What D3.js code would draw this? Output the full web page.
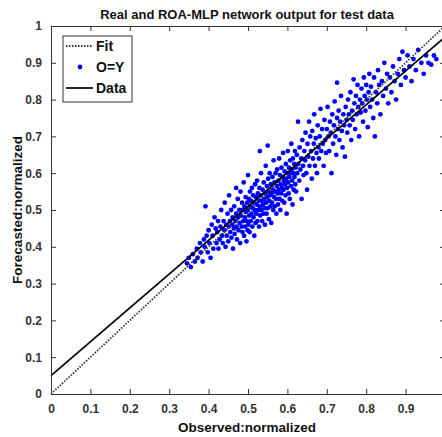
<!DOCTYPE html>
<html><head><meta charset="utf-8">
<script src="https://cdn.jsdelivr.net/npm/d3@7"></script>
<style>
html,body{margin:0;padding:0;background:#fff;}
svg{display:block;font-family:"Liberation Sans",Arial,sans-serif;}
</style></head>
<body>
<svg id="chart" width="442" height="437"></svg>
<script>
const titleText = "Real and ROA-MLP network output for test data";
const xLabel = "Observed:normalized";
const yLabel = "Forecasted:normalized";
const xTicks = [0,0.1,0.2,0.3,0.4,0.5,0.6,0.7,0.8,0.9,1];
const yTicks = [0,0.1,0.2,0.3,0.4,0.5,0.6,0.7,0.8,0.9,1];
const legendLabels = ["Fit","O=Y","Data"];
// regression ("Data") line end points
const dataLine = [[0,0.05],[1,0.97]];
// identity ("Fit") line
const fitLine = [[0,0],[1,1]];
// scatter points [observed, forecasted]
const points = [
[0.345,0.355],[0.35,0.37],[0.355,0.345],[0.36,0.38],[0.365,0.36],[0.37,0.395],[0.372,0.37],[0.378,0.41],[0.38,0.385],[0.385,0.36],[0.388,0.42],[0.39,0.4],[0.392,0.51],[0.395,0.43],[0.398,0.385],[0.4,0.445],[0.402,0.41],[0.405,0.37],[0.408,0.46],[0.41,0.43],[0.412,0.395],[0.415,0.48],[0.418,0.45],[0.42,0.41],
[0.422,0.44],[0.424,0.47],[0.425,0.395],[0.428,0.42],[0.43,0.455],[0.432,0.5],[0.434,0.43],[0.436,0.41],[0.438,0.47],[0.44,0.445],[0.441,0.52],[0.443,0.4],[0.445,0.46],[0.446,0.43],[0.448,0.49],[0.45,0.415],[0.451,0.455],[0.452,0.54],[0.454,0.47],[0.455,0.44],[0.457,0.5],[0.458,0.425],[0.46,0.46],[0.461,0.48],[0.462,0.395],[0.464,0.45],[0.465,0.51],[0.466,0.435],[0.468,0.47],[0.47,0.49],[0.47,0.56],[0.471,0.455],[0.472,0.42],[0.474,0.53],[0.475,0.48],[0.476,0.445],[0.478,0.5],[0.479,0.465],[0.48,0.41],[0.481,0.55],[0.482,0.485],[0.484,0.455],[0.485,0.52],[0.486,0.44],[0.487,0.5],[0.488,0.47],[0.489,0.575],[0.49,0.43],[0.491,0.51],[0.492,0.48],[0.493,0.455],[0.494,0.535],[0.495,0.495],[0.496,0.415],[0.497,0.47],[0.498,0.52],[0.499,0.445],[0.5,0.5],[0.5,0.595],[0.501,0.46],[0.502,0.53],
[0.503,0.485],[0.504,0.44],[0.505,0.55],[0.506,0.51],[0.507,0.47],[0.508,0.525],[0.509,0.49],[0.51,0.56],[0.511,0.455],[0.512,0.505],[0.513,0.54],[0.514,0.48],[0.515,0.52],[0.516,0.43],[0.517,0.5],[0.518,0.57],[0.519,0.465],[0.52,0.535],[0.521,0.49],[0.522,0.515],[0.523,0.58],[0.524,0.47],[0.525,0.545],[0.526,0.5],[0.527,0.525],[0.528,0.455],[0.529,0.56],[0.53,0.51],[0.53,0.66],[0.531,0.485],[0.532,0.54],[0.533,0.6],[0.534,0.5],[0.535,0.525],[0.536,0.47],[0.537,0.555],[0.538,0.515],[0.539,0.49],[0.54,0.575],[0.541,0.53],[0.542,0.505],[0.543,0.46],[0.544,0.545],[0.545,0.62],[0.546,0.52],[0.547,0.49],[0.548,0.565],[0.549,0.535],[0.55,0.505],[0.55,0.675],[0.551,0.585],[0.552,0.55],[0.553,0.475],[0.554,0.525],[0.555,0.6],[0.556,0.54],[0.557,0.51],[0.558,0.57],[0.559,0.465],[0.56,0.545],[0.561,0.52],[0.562,0.59],[0.563,0.555],[0.564,0.5],[0.565,0.635],[0.566,0.535],[0.567,0.575],[0.568,0.51],[0.569,0.55],[0.57,0.6],[0.571,0.53],[0.572,0.49],[0.573,0.565],[0.574,0.61],[0.575,0.545],[0.576,0.515],[0.577,0.58],[0.578,0.555],[0.579,0.64],[0.58,0.53],[0.581,0.595],[0.582,0.5],[0.583,0.57],[0.584,0.545],[0.585,0.615],[0.586,0.56],[0.587,0.525],[0.588,0.59],[0.589,0.655],[0.59,0.555],[0.591,0.58],[0.592,0.52],[0.593,0.605],[0.594,0.57],[0.595,0.54],[0.596,0.625],[0.597,0.585],[0.598,0.49],[0.599,0.56],[0.6,0.6],[0.601,0.66],[0.602,0.575],[0.603,0.545],[0.604,0.615],[0.605,0.59],[0.606,0.53],[0.607,0.635],[0.608,0.6],[0.609,0.565],[0.61,0.68],[0.611,0.61],[0.612,0.58],[0.613,0.515],[0.614,0.64],[0.615,0.6],[0.616,0.555],[0.617,0.625],[0.618,0.59],[0.619,0.66],[0.62,0.57],
[0.621,0.615],[0.622,0.55],[0.624,0.65],[0.625,0.6],[0.627,0.74],[0.628,0.625],[0.63,0.58],[0.631,0.67],[0.633,0.61],[0.635,0.64],[0.636,0.53],[0.638,0.69],[0.64,0.62],[0.641,0.595],[0.643,0.66],[0.645,0.635],[0.646,0.71],[0.648,0.6],[0.65,0.555],[0.651,0.68],[0.653,0.645],[0.655,0.74],[0.656,0.62],[0.658,0.7],[0.66,0.66],[0.662,0.585],[0.663,0.715],[0.665,0.64],[0.667,0.68],[0.668,0.76],[0.67,0.62],[0.672,0.695],[0.674,0.655],[0.675,0.6],[0.677,0.73],[0.679,0.67],[0.68,0.64],[0.682,0.7],[0.684,0.775],[0.686,0.66],[0.688,0.72],[0.69,0.68],[0.692,0.62],[0.694,0.745],[0.696,0.69],[0.698,0.655],[0.7,0.72],[0.702,0.78],[0.704,0.7],[0.706,0.66],[0.708,0.74],[0.71,0.71],[0.712,0.6],[0.714,0.76],[0.716,0.68],[0.718,0.73],[0.72,0.795],[0.722,0.7],[0.724,0.65],[0.726,0.75],[0.726,0.846],[0.728,0.72],[0.73,0.77],[0.732,0.69],[0.734,0.74],[0.736,0.81],[0.738,0.715],[0.74,0.67],[0.742,0.76],[0.744,0.73],[0.746,0.645],[0.748,0.78],[0.75,0.745],
[0.752,0.71],[0.754,0.8],[0.756,0.76],[0.758,0.73],[0.76,0.82],[0.762,0.69],[0.764,0.77],[0.766,0.745],[0.768,0.855],[0.77,0.79],[0.772,0.72],[0.774,0.81],[0.776,0.76],[0.778,0.84],[0.78,0.78],[0.782,0.7],[0.784,0.8],[0.786,0.765],[0.788,0.83],[0.79,0.79],[0.792,0.74],[0.794,0.86],[0.796,0.81],[0.798,0.77],[0.8,0.84],[0.802,0.8],[0.804,0.725],[0.806,0.82],[0.808,0.87],[0.81,0.78],[0.812,0.835],[0.815,0.8],[0.818,0.75],[0.82,0.86],[0.822,0.7],[0.825,0.82],[0.828,0.79],[0.83,0.88],[0.833,0.84],[0.836,0.76],[0.84,0.85],[0.843,0.81],[0.846,0.9],[0.85,0.83],[0.853,0.87],[0.856,0.79],[0.86,0.86],[0.864,0.82],[0.868,0.89],[0.872,0.85],[0.876,0.8],[0.88,0.87],
[0.884,0.91],[0.888,0.84],[0.892,0.93],[0.896,0.88],[0.9,0.86],[0.905,0.92],[0.91,0.89],[0.915,0.85],[0.92,0.91],[0.926,0.88],[0.932,0.935],[0.94,0.9],[0.946,0.87],[0.952,0.92],[0.958,0.9],[0.965,0.895],[0.972,0.92],[0.978,0.91]
];

const svg = d3.select("#chart");
const M = {left:51, top:26};
const W = 394, H = 368;
const x = d3.scaleLinear().domain([0,1]).range([M.left, M.left+W]);
const y = d3.scaleLinear().domain([0,1]).range([M.top+H, M.top]);
const axisColor = "#333";
const fmt = d => d===0 ? "0" : (d===1 ? "1" : d3.format(".1f")(d));

// points
svg.append("g").selectAll("circle").data(points).join("circle")
  .attr("cx", d => x(d[0])).attr("cy", d => y(d[1]))
  .attr("r", 2.4).attr("fill", "#0000ff");

const line = d3.line().x(d => x(d[0])).y(d => y(d[1]));
svg.append("path").attr("d", line(fitLine)).attr("fill","none")
  .attr("stroke","#333").attr("stroke-width",1.8).attr("stroke-dasharray","1.5,1.5");
svg.append("path").attr("d", line(dataLine)).attr("fill","none")
  .attr("stroke","#000").attr("stroke-width",1.7);

// axes
const gx = svg.append("g").attr("transform",`translate(0,${M.top+H})`)
  .call(d3.axisBottom(x).tickValues(xTicks.filter(t=>t<1)).tickSize(-5).tickPadding(10).tickFormat(fmt));
const gy = svg.append("g").attr("transform",`translate(${M.left},0)`)
  .call(d3.axisLeft(y).tickValues(yTicks).tickSize(-5).tickPadding(9).tickFormat(fmt));
const gt = svg.append("g").attr("transform",`translate(0,${M.top})`)
  .call(d3.axisTop(x).tickValues(xTicks).tickSize(-5).tickFormat(""));
const gr = svg.append("g").attr("transform",`translate(${M.left+W},0)`)
  .call(d3.axisRight(y).tickValues(yTicks).tickSize(-5).tickFormat(""));
[gx,gy,gt,gr].forEach(g => {
  g.selectAll("path.domain").attr("stroke",axisColor).attr("stroke-width",1);
  g.selectAll(".tick line").attr("stroke",axisColor);
  g.selectAll(".tick text").attr("fill","#333").attr("font-size","12px")
    .attr("font-weight","bold").attr("font-family","'Liberation Sans',Arial,sans-serif");
});

// title and labels
svg.append("text").attr("x", 247).attr("y", 19).attr("text-anchor","middle")
  .attr("font-size","13px").attr("font-weight","bold").attr("fill","#111").text(titleText);
svg.append("text").attr("x", 247).attr("y", 432).attr("text-anchor","middle")
  .attr("font-size","13.5px").attr("font-weight","bold").attr("fill","#111").text(xLabel);
svg.append("text").attr("transform",`translate(22,${y(0.5)}) rotate(-90)`).attr("text-anchor","middle")
  .attr("font-size","13.5px").attr("font-weight","bold").attr("fill","#111").text(yLabel);

// legend
const lg = svg.append("g");
lg.append("rect").attr("x",63).attr("y",36).attr("width",69).attr("height",66)
  .attr("fill","#fff").attr("stroke","#333").attr("stroke-width",1);
const rows = [51,72,93];
lg.append("line").attr("x1",66).attr("x2",93).attr("y1",rows[0]-5).attr("y2",rows[0]-5)
  .attr("stroke","#333").attr("stroke-width",1.8).attr("stroke-dasharray","1.5,1.5");
lg.append("circle").attr("cx",80).attr("cy",rows[1]-5).attr("r",2.4).attr("fill","#0000ff");
lg.append("line").attr("x1",66).attr("x2",93).attr("y1",rows[2]-5).attr("y2",rows[2]-5)
  .attr("stroke","#000").attr("stroke-width",1.7);
lg.selectAll("text.lbl").data(legendLabels).join("text").attr("class","lbl")
  .attr("x",96).attr("y",(d,i)=>rows[i]).attr("font-size","14px").attr("font-weight","bold")
  .attr("fill","#111").text(d=>d);
</script>
</body></html>
